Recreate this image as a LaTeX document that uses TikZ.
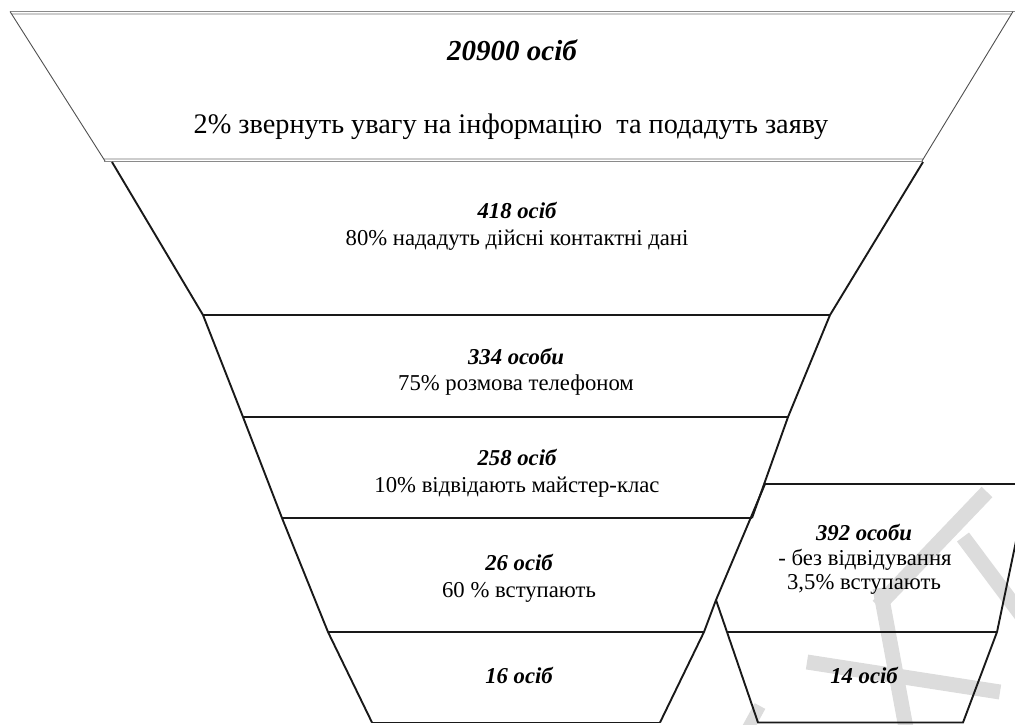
\documentclass[tikz,border=0pt]{standalone}
\usepackage{fontspec}
\setmainfont{Liberation Serif}
\definecolor{wmgray}{HTML}{DCDCDC}
\definecolor{topdark}{HTML}{8A8A8A}
\definecolor{toplight}{HTML}{CDCDCD}
\definecolor{topside}{HTML}{505050}
\begin{document}
\begin{tikzpicture}[x=1pt,y=-1pt,
  wm/.style={draw=wmgray, line width=15pt},
  funline/.style={draw=black!90, line width=1.9pt, line join=miter},
  topdk/.style={draw=topdark, line width=1.3pt},
  toplt/.style={draw=toplight, line width=1.6pt},
  topsd/.style={draw=topside, line width=0.9pt},
  cnt/.style={font=\fontsize{22.7}{26}\selectfont\bfseries\itshape, anchor=base, inner sep=0pt},
  txt/.style={font=\fontsize{22.7}{26}\selectfont, anchor=base, inner sep=0pt},
  bigcnt/.style={font=\fontsize{29}{33}\selectfont\bfseries\itshape, anchor=base, inner sep=0pt},
  bigtxt/.style={font=\fontsize{28.3}{33}\selectfont, anchor=base, inner sep=0pt}]
\useasboundingbox (0,0) rectangle (1015,724);
\clip (0,0) rectangle (1015,724);
% watermark
\draw[wm] (987,492) -- (878,606);
\draw[wm] (880,588) -- (906,728);
\draw[wm] (963,537) -- (1022,616);
\draw[wm] (807,662) -- (1000,692);
\draw[wm, line width=12pt] (760,706) -- (748,728);
% top trapezoid (grey)
\draw[toplt] (12,13.8) -- (1012,13.8);
\draw[toplt] (104,158.8) -- (923,158.8);
\draw[topdk] (10,11.5) -- (1015,11.5);
\draw[topdk] (104,161.6) -- (923,161.6);
\draw[topsd] (10,11.5) -- (105,161);
\draw[topsd] (1013,11.5) -- (922,161);
% main funnel
\draw[funline] (112,162) -- (203,315) -- (243,417) -- (282,518) -- (328,632) -- (372,722.5);
\draw[funline] (923,162) -- (830,315) -- (788,417) -- (752,518);
\draw[funline] (765,484) -- (716,600) -- (704,632) -- (660,722.5);
\draw[funline] (203,315) -- (830,315);
\draw[funline] (243,417) -- (788,417);
\draw[funline] (282,518) -- (752,518);
\draw[funline] (328,632) -- (704,632);
\draw[funline] (372,722.5) -- (660,722.5);
% side funnel
\draw[funline] (765,484) -- (1030,484);
\draw[funline] (1028,484) -- (997,632) -- (963,722.5) -- (758,722.5) -- (727,632) -- (716,600);
\draw[funline] (727,632) -- (997,632);
% texts
\node[bigcnt] (t1) at (512,60) {20900 осіб};
\node[bigtxt] (t2) at (511,133) {2\% звернуть увагу на інформацію\ \ та подадуть заяву};
\node[cnt] (s2a) at (517,218) {418 осіб};
\node[txt] (s2b) at (517,245) {80\% нададуть дійсні контактні дані};
\node[cnt] (s3a) at (516,364) {334 особи};
\node[txt] (s3b) at (516,390) {75\% розмова телефоном};
\node[cnt] (s4a) at (517,465) {258 осіб};
\node[txt] (s4b) at (517,492) {10\% відвідають майстер-клас};
\node[cnt] (s5a) at (519,570) {26 осіб};
\node[txt] (s5b) at (519,597) {60 \% вступають};
\node[cnt] (s6a) at (519,683) {16 осіб};
\node[cnt] (r1a) at (864,540) {392 особи};
\node[txt] (r1b) at (865,565) {- без відвідування};
\node[txt] (r1c) at (864,589) {3,5\% вступають};
\node[cnt] (r2a) at (864,683) {14 осіб};
\end{tikzpicture}
\end{document}
